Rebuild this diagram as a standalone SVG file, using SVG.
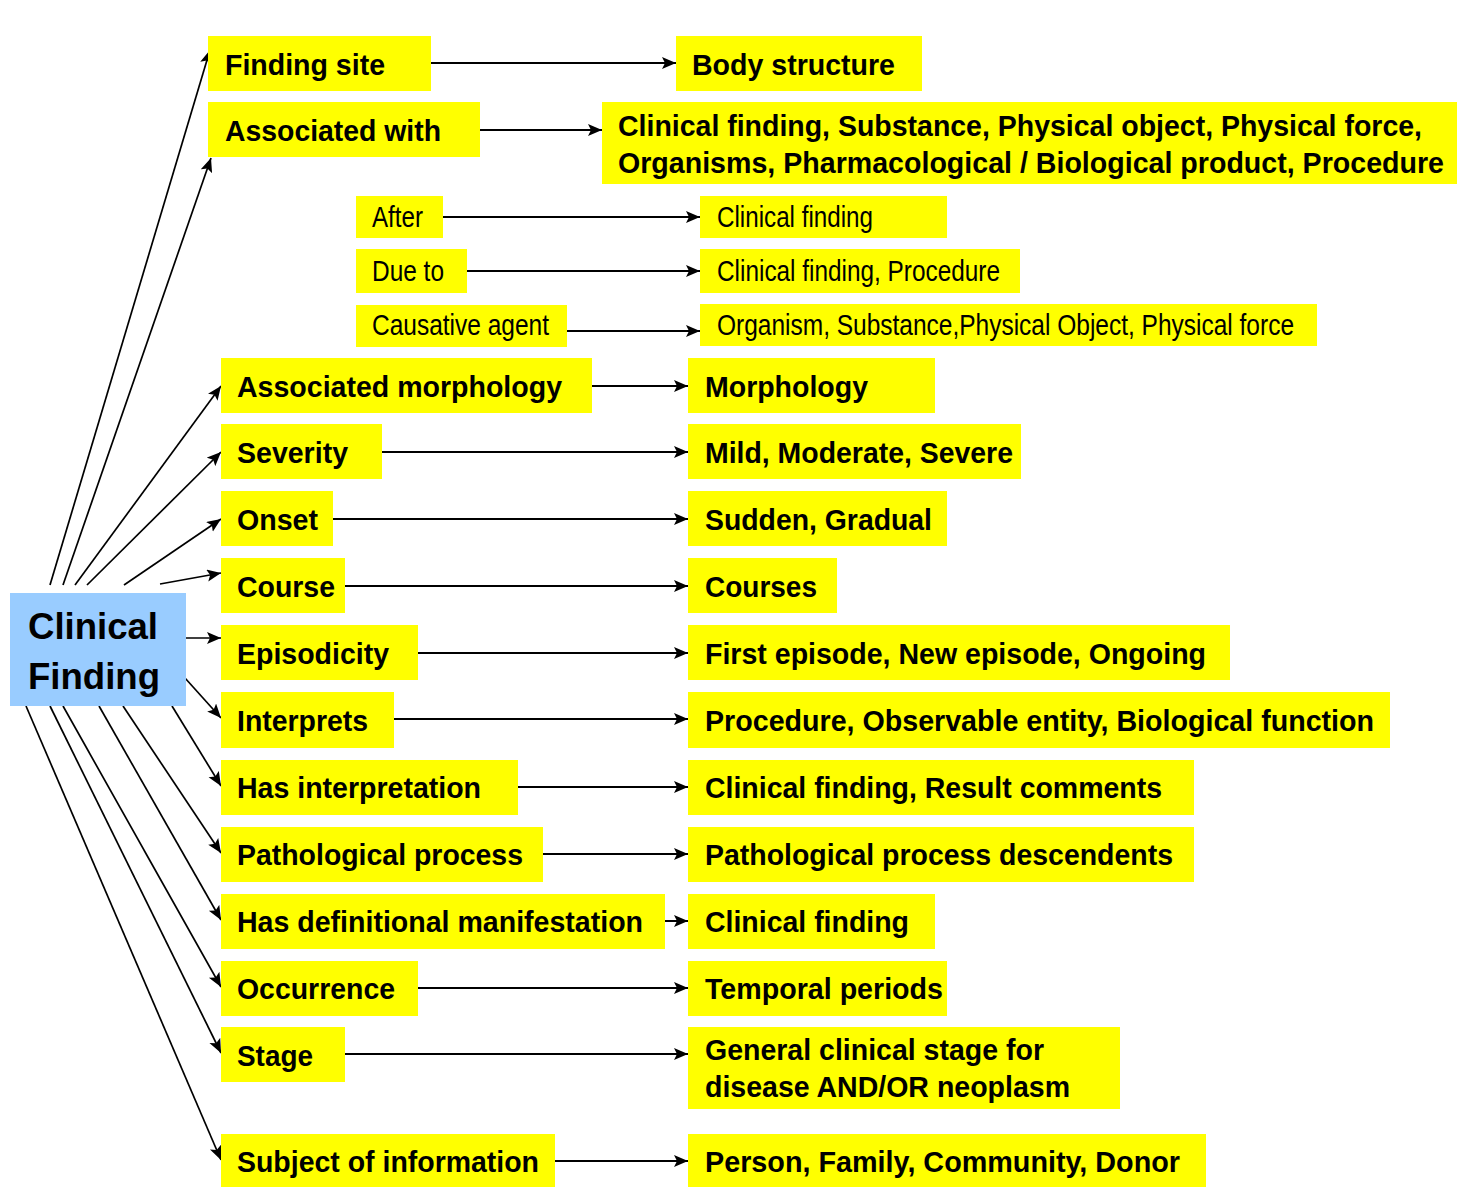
<svg xmlns="http://www.w3.org/2000/svg" width="1457" height="1187" viewBox="0 0 1457 1187">
<style>
.box{fill:#FFFF00}
.cf{fill:#99CCFF}
.b{font-family:"Liberation Sans",Arial,sans-serif;font-weight:bold;font-size:29px;fill:#000}
.r{font-family:"Liberation Sans",Arial,sans-serif;font-size:29px;fill:#000}
.big{font-family:"Liberation Sans",Arial,sans-serif;font-weight:bold;font-size:36px;fill:#000}
.h{stroke:#000;stroke-width:2;fill:none;marker-end:url(#ah)}
.d{stroke:#000;stroke-width:1.7;fill:none;marker-end:url(#ah)}
</style>
<defs>
<marker id="ah" markerUnits="userSpaceOnUse" markerWidth="15" markerHeight="13" refX="14" refY="6" orient="auto">
<path d="M0,0 L14,6 L0,12 L3,6 z" fill="#000"/>
</marker>
</defs>
<rect width="1457" height="1187" fill="#fff"/>

<g id="connectors">
<line class="h" x1="431" y1="63" x2="676" y2="63"/>
<line class="h" x1="480" y1="130" x2="602" y2="130"/>
<line class="h" x1="443" y1="217" x2="700" y2="217"/>
<line class="h" x1="467" y1="271" x2="700" y2="271"/>
<line class="h" x1="567" y1="331" x2="700" y2="331"/>
<line class="h" x1="592" y1="386" x2="688" y2="386"/>
<line class="h" x1="382" y1="452" x2="688" y2="452"/>
<line class="h" x1="333" y1="519" x2="688" y2="519"/>
<line class="h" x1="345" y1="586" x2="688" y2="586"/>
<line class="h" x1="418" y1="653" x2="688" y2="653"/>
<line class="h" x1="394" y1="719" x2="688" y2="719"/>
<line class="h" x1="518" y1="787" x2="688" y2="787"/>
<line class="h" x1="543" y1="854" x2="688" y2="854"/>
<line class="h" x1="665" y1="921" x2="688" y2="921"/>
<line class="h" x1="418" y1="988" x2="688" y2="988"/>
<line class="h" x1="345" y1="1054" x2="688" y2="1054"/>
<line class="h" x1="555" y1="1161" x2="688" y2="1161"/>

<line class="d" x1="50" y1="585" x2="210" y2="50"/>
<line class="d" x1="63" y1="585" x2="211" y2="158"/>
<line class="d" x1="75" y1="585" x2="221" y2="386"/>
<line class="d" x1="87" y1="585" x2="221" y2="452"/>
<line class="d" x1="124" y1="585" x2="221" y2="519"/>
<line class="d" x1="160" y1="584" x2="221" y2="573"/>
<line class="d" x1="185" y1="638" x2="221" y2="638"/>
<line class="d" x1="185" y1="678" x2="221" y2="718"/>
<line class="d" x1="172" y1="706" x2="221" y2="786"/>
<line class="d" x1="123" y1="706" x2="221" y2="853"/>
<line class="d" x1="99" y1="706" x2="221" y2="920"/>
<line class="d" x1="63" y1="706" x2="221" y2="987"/>
<line class="d" x1="50" y1="706" x2="221" y2="1053"/>
<line class="d" x1="26" y1="706" x2="221" y2="1160"/>
</g>

<g id="clinical-finding">
<rect class="cf" x="10" y="593" width="176" height="113"/>
<text class="big" x="28" y="639" textLength="130" lengthAdjust="spacingAndGlyphs">Clinical</text>
<text class="big" x="28" y="689" textLength="132" lengthAdjust="spacingAndGlyphs">Finding</text>
</g>

<g id="finding-site"><rect class="box" x="208" y="36" width="223" height="55"/><text class="b" x="225" y="75" textLength="160" lengthAdjust="spacingAndGlyphs">Finding site</text></g>
<g id="body-structure"><rect class="box" x="676" y="36" width="246" height="55"/><text class="b" x="692" y="75" textLength="203" lengthAdjust="spacingAndGlyphs">Body structure</text></g>

<g id="associated-with"><rect class="box" x="208" y="102" width="272" height="55"/><text class="b" x="225" y="141" textLength="216" lengthAdjust="spacingAndGlyphs">Associated with</text></g>
<g id="associated-with-range"><rect class="box" x="602" y="102" width="855" height="82"/>
<text class="b" x="618" y="136" textLength="804" lengthAdjust="spacingAndGlyphs">Clinical finding, Substance, Physical object, Physical force,</text>
<text class="b" x="618" y="173" textLength="826" lengthAdjust="spacingAndGlyphs">Organisms, Pharmacological / Biological product, Procedure</text></g>

<g id="after"><rect class="box" x="356" y="196" width="87" height="42"/><text class="r" x="372" y="227" textLength="51" lengthAdjust="spacingAndGlyphs">After</text></g>
<g id="after-range"><rect class="box" x="700" y="196" width="247" height="42"/><text class="r" x="717" y="227" textLength="156" lengthAdjust="spacingAndGlyphs">Clinical finding</text></g>

<g id="due-to"><rect class="box" x="356" y="249" width="111" height="44"/><text class="r" x="372" y="281" textLength="72" lengthAdjust="spacingAndGlyphs">Due to</text></g>
<g id="due-to-range"><rect class="box" x="700" y="249" width="320" height="44"/><text class="r" x="717" y="281" textLength="283" lengthAdjust="spacingAndGlyphs">Clinical finding, Procedure</text></g>

<g id="causative-agent"><rect class="box" x="356" y="305" width="211" height="42"/><text class="r" x="372" y="335" textLength="177" lengthAdjust="spacingAndGlyphs">Causative agent</text></g>
<g id="causative-agent-range"><rect class="box" x="700" y="304" width="617" height="42"/><text class="r" x="717" y="335" textLength="577" lengthAdjust="spacingAndGlyphs">Organism, Substance,Physical Object, Physical force</text></g>

<g id="associated-morphology"><rect class="box" x="221" y="358" width="371" height="55"/><text class="b" x="237" y="397" textLength="325" lengthAdjust="spacingAndGlyphs">Associated morphology</text></g>
<g id="morphology"><rect class="box" x="688" y="358" width="247" height="55"/><text class="b" x="705" y="397" textLength="163" lengthAdjust="spacingAndGlyphs">Morphology</text></g>

<g id="severity"><rect class="box" x="221" y="424" width="161" height="55"/><text class="b" x="237" y="463" textLength="111" lengthAdjust="spacingAndGlyphs">Severity</text></g>
<g id="severity-range"><rect class="box" x="688" y="424" width="333" height="55"/><text class="b" x="705" y="463" textLength="308" lengthAdjust="spacingAndGlyphs">Mild, Moderate, Severe</text></g>

<g id="onset"><rect class="box" x="221" y="491" width="112" height="55"/><text class="b" x="237" y="530" textLength="81" lengthAdjust="spacingAndGlyphs">Onset</text></g>
<g id="onset-range"><rect class="box" x="688" y="491" width="259" height="55"/><text class="b" x="705" y="530" textLength="227" lengthAdjust="spacingAndGlyphs">Sudden, Gradual</text></g>

<g id="course"><rect class="box" x="221" y="558" width="124" height="55"/><text class="b" x="237" y="597" textLength="98" lengthAdjust="spacingAndGlyphs">Course</text></g>
<g id="courses"><rect class="box" x="688" y="558" width="149" height="55"/><text class="b" x="705" y="597" textLength="112" lengthAdjust="spacingAndGlyphs">Courses</text></g>

<g id="episodicity"><rect class="box" x="221" y="625" width="197" height="55"/><text class="b" x="237" y="664" textLength="152" lengthAdjust="spacingAndGlyphs">Episodicity</text></g>
<g id="episodicity-range"><rect class="box" x="688" y="625" width="542" height="55"/><text class="b" x="705" y="664" textLength="501" lengthAdjust="spacingAndGlyphs">First episode, New episode, Ongoing</text></g>

<g id="interprets"><rect class="box" x="221" y="692" width="173" height="56"/><text class="b" x="237" y="731" textLength="131" lengthAdjust="spacingAndGlyphs">Interprets</text></g>
<g id="interprets-range"><rect class="box" x="688" y="692" width="702" height="56"/><text class="b" x="705" y="731" textLength="669" lengthAdjust="spacingAndGlyphs">Procedure, Observable entity, Biological function</text></g>

<g id="has-interpretation"><rect class="box" x="221" y="760" width="297" height="55"/><text class="b" x="237" y="798" textLength="244" lengthAdjust="spacingAndGlyphs">Has interpretation</text></g>
<g id="has-interpretation-range"><rect class="box" x="688" y="760" width="506" height="55"/><text class="b" x="705" y="798" textLength="457" lengthAdjust="spacingAndGlyphs">Clinical finding, Result comments</text></g>

<g id="pathological-process"><rect class="box" x="221" y="827" width="322" height="55"/><text class="b" x="237" y="865" textLength="286" lengthAdjust="spacingAndGlyphs">Pathological process</text></g>
<g id="pathological-process-range"><rect class="box" x="688" y="827" width="506" height="55"/><text class="b" x="705" y="865" textLength="468" lengthAdjust="spacingAndGlyphs">Pathological process descendents</text></g>

<g id="has-definitional-manifestation"><rect class="box" x="221" y="894" width="444" height="55"/><text class="b" x="237" y="932" textLength="406" lengthAdjust="spacingAndGlyphs">Has definitional manifestation</text></g>
<g id="has-definitional-manifestation-range"><rect class="box" x="688" y="894" width="247" height="55"/><text class="b" x="705" y="932" textLength="204" lengthAdjust="spacingAndGlyphs">Clinical finding</text></g>

<g id="occurrence"><rect class="box" x="221" y="961" width="197" height="55"/><text class="b" x="237" y="999" textLength="158" lengthAdjust="spacingAndGlyphs">Occurrence</text></g>
<g id="occurrence-range"><rect class="box" x="688" y="961" width="259" height="55"/><text class="b" x="705" y="999" textLength="238" lengthAdjust="spacingAndGlyphs">Temporal periods</text></g>

<g id="stage"><rect class="box" x="221" y="1027" width="124" height="55"/><text class="b" x="237" y="1066" textLength="76" lengthAdjust="spacingAndGlyphs">Stage</text></g>
<g id="stage-range"><rect class="box" x="688" y="1027" width="432" height="82"/>
<text class="b" x="705" y="1060" textLength="339" lengthAdjust="spacingAndGlyphs">General clinical stage for</text>
<text class="b" x="705" y="1097" textLength="365" lengthAdjust="spacingAndGlyphs">disease AND/OR neoplasm</text></g>

<g id="subject-of-information"><rect class="box" x="221" y="1134" width="334" height="53"/><text class="b" x="237" y="1172" textLength="302" lengthAdjust="spacingAndGlyphs">Subject of information</text></g>
<g id="subject-of-information-range"><rect class="box" x="688" y="1134" width="518" height="53"/><text class="b" x="705" y="1172" textLength="475" lengthAdjust="spacingAndGlyphs">Person, Family, Community, Donor</text></g>
</svg>
